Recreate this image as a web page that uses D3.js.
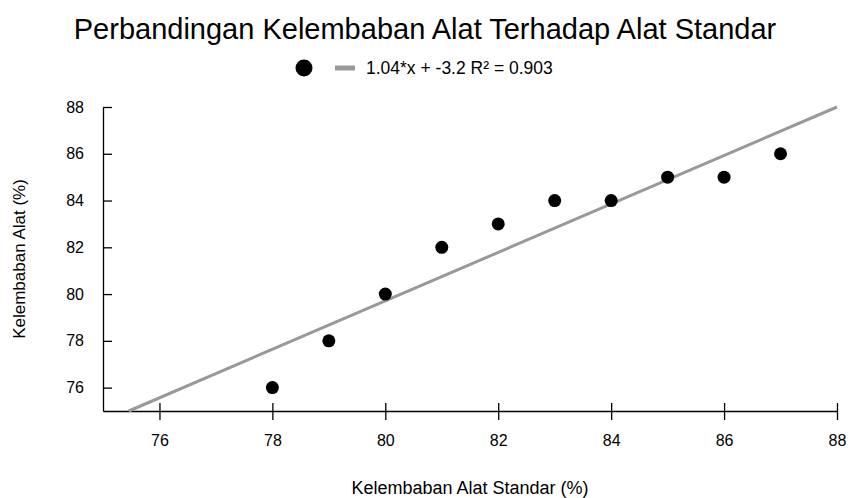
<!DOCTYPE html>
<html>
<head>
<meta charset="utf-8">
<script src="https://cdn.jsdelivr.net/npm/d3@7"></script>
<style>
  body { margin: 0; background: #fff; }
  text { font-family: "Liberation Sans", Arial, sans-serif; fill: #000; }
</style>
</head>
<body>
<svg id="chart"></svg>
<script>
// data
const alatStandar = [78, 79, 80, 81, 82, 83, 84, 85, 86, 87];
const alatUkur = [76, 78, 80, 82, 83, 84, 84, 85, 85, 86];
const xTicks = [76, 78, 80, 82, 84, 86, 88];
const yTicks = [76, 78, 80, 82, 84, 86, 88];

const width = 851, height = 498;
const margin = { top: 107, right: 14, bottom: 87, left: 103 };
const innerW = width - margin.left - margin.right;
const innerH = height - margin.top - margin.bottom;

const svg = d3.select("#chart").attr("width", width).attr("height", height);

// least squares fit
const n = alatStandar.length;
const mx = d3.mean(alatStandar), my = d3.mean(alatUkur);
let sxy = 0, sxx = 0, syy = 0;
for (let i = 0; i < n; i++) {
  sxy += (alatStandar[i] - mx) * (alatUkur[i] - my);
  sxx += (alatStandar[i] - mx) ** 2;
  syy += (alatUkur[i] - my) ** 2;
}
const slope = sxy / sxx;
const intercept = my - slope * mx;
const r2 = (sxy * sxy) / (sxx * syy);

const xScale = d3.scaleLinear().domain([75, 88]).range([0, innerW]);
const yScale = d3.scaleLinear().domain([75, 88]).range([innerH, 0]);

const chart = svg.append("g")
  .attr("transform", `translate(${margin.left},${margin.top})`);

// axes with ticks crossing the line
const xAxis = d3.axisBottom(xScale).tickValues(xTicks).tickSize(9).tickSizeOuter(0).tickPadding(15);
const yAxis = d3.axisLeft(yScale).tickValues(yTicks).tickSize(9).tickSizeOuter(0).tickPadding(10);

const xAxisG = chart.append("g").attr("transform", `translate(0,${innerH})`).call(xAxis);
const yAxisG = chart.append("g").call(yAxis);

[xAxisG, yAxisG].forEach(g => {
  g.select(".domain").attr("stroke", "#000").attr("stroke-width", 1.3);
  g.selectAll(".tick line").attr("stroke", "#000").attr("stroke-width", 1.3);
  g.selectAll(".tick text").style("font-size", "16px").attr("fill", "#000")
    .style("font-family", '"Liberation Sans", Arial, sans-serif');
});
xAxisG.selectAll(".tick line").attr("y1", -8);
yAxisG.selectAll(".tick line").attr("x2", 9);

// regression line, clipped to the plot box
const x0 = (75 - intercept) / slope;
const x1 = 88;
chart.append("line")
  .attr("x1", xScale(x0)).attr("y1", yScale(slope * x0 + intercept))
  .attr("x2", xScale(x1)).attr("y2", yScale(slope * x1 + intercept))
  .attr("stroke", "#999").attr("stroke-width", 3);

// points
chart.selectAll("circle.pt")
  .data(alatStandar.map((d, i) => ({ x: d, y: alatUkur[i] })))
  .join("circle")
  .attr("class", "pt")
  .attr("cx", d => xScale(d.x))
  .attr("cy", d => yScale(d.y))
  .attr("r", 6.5)
  .attr("fill", "#000");

// title
svg.append("text")
  .attr("x", 425).attr("y", 39)
  .attr("text-anchor", "middle")
  .style("font-size", "29px")
  .text("Perbandingan Kelembaban Alat Terhadap Alat Standar");

// legend
svg.append("circle").attr("cx", 304).attr("cy", 68).attr("r", 8.5).attr("fill", "#000");
svg.append("line").attr("x1", 335).attr("x2", 355).attr("y1", 68).attr("y2", 68)
  .attr("stroke", "#999").attr("stroke-width", 5);
svg.append("text")
  .attr("x", 366).attr("y", 74)
  .style("font-size", "17.5px")
  .text(`${slope.toFixed(2)}*x + ${intercept.toFixed(1)} R\u00b2 = ${r2.toFixed(3)}`);

// axis titles
svg.append("text")
  .attr("x", margin.left + innerW / 2).attr("y", 494)
  .attr("text-anchor", "middle")
  .style("font-size", "18px")
  .text("Kelembaban Alat Standar (%)");

svg.append("text")
  .attr("transform", `translate(25,${margin.top + innerH / 2}) rotate(-90)`)
  .attr("text-anchor", "middle")
  .style("font-size", "17px")
  .text("Kelembaban Alat (%)");
</script>
</body>
</html>
